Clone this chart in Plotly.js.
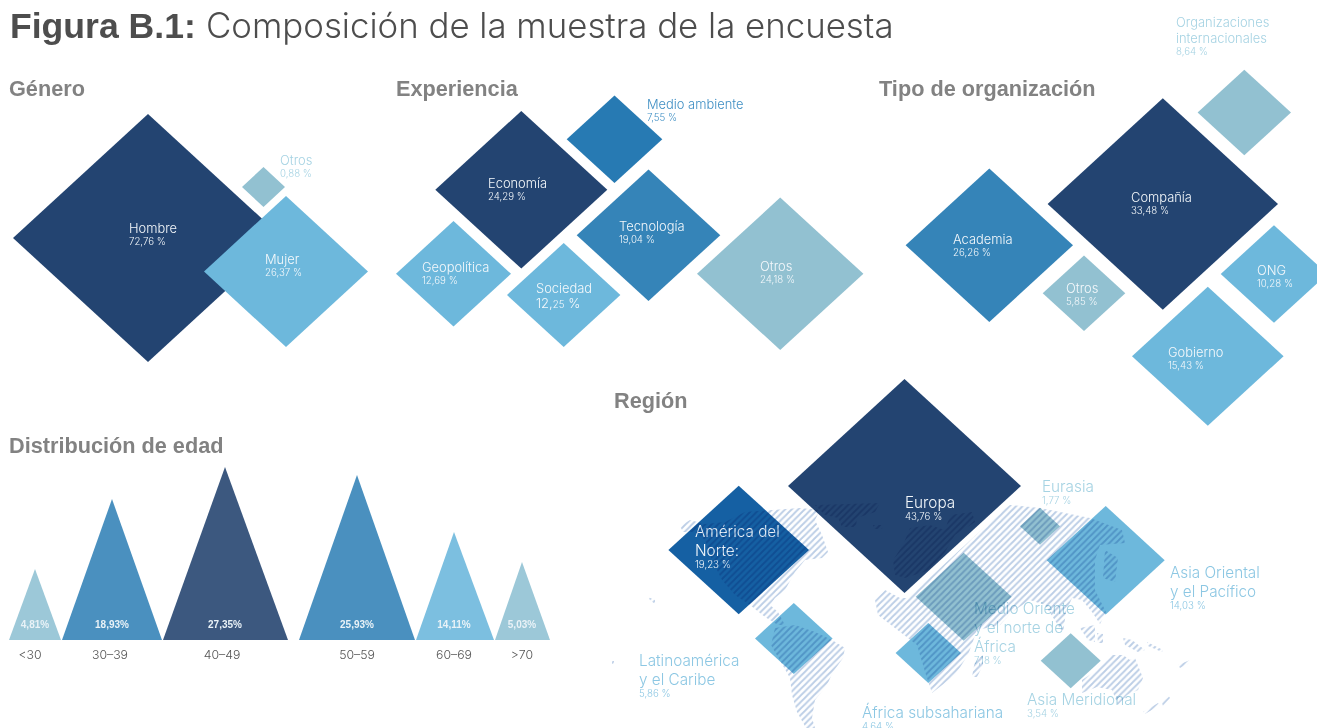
<!DOCTYPE html>
<html><head><meta charset="utf-8">
<script src="https://cdn.plot.ly/plotly-3.0.1.min.js"></script>
<style>html,body{margin:0;padding:0;background:#fff;overflow:hidden}</style></head>
<body><div id="chart" style="width:1317px;height:728px"></div>
<script>
// ---- values ----
const generoCats = ["Hombre","Mujer","Otros"];
const generoVals = [72.76,26.37,0.88];
const experienciaCats = ["Economía","Medio ambiente","Tecnología","Geopolítica","Sociedad","Otros"];
const experienciaVals = [24.29,7.55,19.04,12.69,12.25,24.18];
const organizacionCats = ["Organizaciones<br>internacionales","Compañía","Academia","Otros","ONG","Gobierno"];
const organizacionVals = [8.64,33.48,26.26,5.85,10.28,15.43];
const regionCats = ["Europa","América del<br>Norte:","Latinoamérica<br>y el Caribe","Medio Oriente<br>y el norte de<br>África","África subsahariana","Eurasia","Asia Oriental<br>y el Pacífico","Asia Meridional"];
const regionVals = [43.76,19.23,5.86,7.18,4.64,1.77,14.03,3.54];
const edadCats = ["&lt;30","30–39","40–49","50–59","60–69",">70"];
const edadVals = [4.81,18.93,27.35,25.93,14.11,5.03];

// ---- placement and style ----
const C = {navy:"#234471",mid:"#3584b8",env:"#277ab3",light:"#6db8dc",pale:"#92c1d1",usa:"#1560a3"};
const LP = "#a6d3e3", LB = "#8cc7e3", LM="#3f8fc4", W="#f4f8fb";
const generoGeo = [[148,238,135,124,C.navy],[286,271.5,82,75.5,C.light],[263.5,187,21.5,20,C.pale]];
const generoTxt = [[129,229,W],[265,260,W],[280,161,LP]];
const experienciaGeo = [[521.3,189.8,86,78.8,C.navy],[614.5,139.3,47.8,43.7,C.env],[648.5,235.2,71.8,65.8,C.mid],[453.5,273.8,57.5,52.8,C.light],[563.7,295,56.7,52,C.light],[780.2,273.8,83.2,76.2,C.pale]];
const experienciaTxt = [[488,184,W],[647,105,LM],[619,227,W],[422,268,W],[536,289,W],[760,267,W]];
const organizacionGeo = [[1244.3,112.5,46.7,42.8,C.pale],[1162.8,204,115.2,105.7,C.navy],[989.3,245.2,83.7,76.8,C.mid],[1084,293.3,41.3,37.7,C.pale],[1274,274,53.3,48.8,C.light],[1207.8,356.2,75.8,69.5,C.light]];
const organizacionTxt = [[1176,23,LP],[1131,198,W],[953,240,W],[1066,289,W],[1257,271,W],[1168,353,W]];
const regionGeo = [[904.5,486,116.5,107,C.navy],[738.7,550,70.3,64.3,C.usa],[793.8,638.5,38.8,35.5,C.light],[963.7,596.7,48,44,C.pale],[928.3,653,32.7,30,C.light],[1040,526.2,20,18.5,C.pale],[1105.7,560.2,59,54.2,C.light],[1070.7,660.8,30,27.5,C.pale]];
const regionTxt = [[905,503,W],[695,532,W],[639,661,LB],[974,609,LP],[862,713,LB],[1042,487,LP],[1170,573,LB],[1027,700,LP]];
const edadGeo = [[35,9,61,71,"#9cc8d8"],[112,62,162,141,"#4a90bf"],[225,163,288,173,"#3c587f"],[357,299,415,165,"#4a90bf"],[454,416,494,108,"#7cbfe0"],[522,495,550,78,"#9cc8d8"]];
const edadBase = 640;
const edadLabelX = [30,110,222,357,454,522];
const headings = [["Género",9,91],["Experiencia",396,91],["Tipo de organización",879,91],["Región",614,403],["Distribución de edad",9,448]];
const mapOutline = [
 [[680,526],[690,520],[705,524],[725,522],[745,512],[770,510],[800,508],[820,510],[815,520],[822,535],[828,552],[822,558],[805,560],[795,572],[785,590],[775,598],[770,605],[778,612],[785,625],[778,625],[765,617],[750,605],[735,595],[722,580],[712,560],[705,540],[695,532],[683,532]],
 [[775,628],[795,625],[815,632],[832,640],[845,648],[843,658],[833,672],[827,685],[815,700],[812,718],[815,728],[806,728],[797,712],[792,695],[790,678],[780,660],[771,645]],
 [[815,505],[880,503],[875,512],[857,518],[856,527],[842,527],[838,518],[825,515]],
 [[873,525],[883,525],[882,529],[874,529]],
 [[893,560],[903,545],[910,528],[930,525],[945,530],[950,515],[972,512],[975,522],[955,535],[945,552],[930,570],[905,578],[895,575]],
 [[875,600],[885,590],[900,598],[908,598],[925,582],[960,550],[985,527],[1003,510],[1010,505],[1040,508],[1090,518],[1122,530],[1125,543],[1100,545],[1095,560],[1095,590],[1106,612],[1100,624],[1092,612],[1082,600],[1072,598],[1066,612],[1063,633],[1055,620],[1045,605],[1030,600],[1012,612],[1000,625],[977,630],[968,655],[955,675],[932,693],[926,675],[917,645],[895,628],[878,615]],
 [[1105,550],[1118,558],[1115,582],[1103,578]],
 [[1080,628],[1095,625],[1095,642],[1088,640]],[[1097,633],[1103,634],[1103,643],[1098,643]],
 [[1123,638],[1132,640],[1145,650],[1138,652],[1125,645]],[[1147,642],[1163,650],[1162,652],[1148,646]],
 [[1082,693],[1082,680],[1097,670],[1112,655],[1123,655],[1130,660],[1135,658],[1143,678],[1138,690],[1127,695],[1118,705],[1112,690],[1097,687]],
 [[1143,712],[1158,703],[1160,705],[1145,714]],[[1162,703],[1168,695],[1170,698],[1163,706]],
 [[972,677],[975,660],[983,655],[983,665],[977,677]],
 [[648,597],[655,600],[655,604],[650,600]],[[1178,665],[1190,660],[1188,664],[1180,668]],[[612,661],[614,661],[614,664],[612,664]]
];
const BOLD = "'Liberation Sans', Arial, sans-serif";
const LIGHT = "Inter, 'Liberation Sans', Arial, sans-serif";

const fmt = (v,sp) => v.toFixed(2).replace(".",",") + (sp ? " %" : "%");
const traces = [];
const blendIdx = [];
function txt(x,y,s,size,color,pos,fam,wt){
  traces.push({type:"scatter",mode:"text",x:[x],y:[y],text:[s],textposition:pos||"middle right",
    textfont:{family:fam||LIGHT,size:size,color:color,weight:wt||300},hoverinfo:"skip",cliponaxis:false});
}
function diamonds(geo){
  geo.forEach(g=>{const [cx,cy,hw,hh,col]=g;
    traces.push({type:"scatter",mode:"lines",x:[cx-hw,cx,cx+hw,cx,cx-hw],y:[cy,cy-hh,cy,cy+hh,cy],fill:"toself",fillcolor:col,line:{width:0},hoverinfo:"skip"});
  });
}
function labels(cats,vals,pos,size,lh,nameDy,pctDy,blendCats){
  cats.forEach((c,i)=>{
    const lines=c.split("<br>"), [x,y,col]=pos[i];
    const blend=(blendCats||[]).includes(c);
    lines.forEach((l,k)=>{ if(blend) blendIdx.push(traces.length); txt(x,y+nameDy+k*lh,l,size,col); });
    const py=y+(lines.length-1)*lh+pctDy;
    const soc=c==="Sociedad";
    const s=soc? "12,<span style='font-size:9.7px'>25</span> %" : fmt(vals[i],true);
    if(blend) blendIdx.push(traces.length);
    txt(x,soc?py+3:py,s,soc?13:9.7,col);
  });
}
diamonds(generoGeo);diamonds(experienciaGeo);diamonds(organizacionGeo);diamonds(regionGeo);
labels(generoCats,generoVals,generoTxt,12.9,0,1,13.2);
labels(experienciaCats,experienciaVals,experienciaTxt,12.9,0,1,13.2);
labels(organizacionCats,organizacionVals,organizacionTxt,12.9,16,1,13.2);
labels(regionCats,regionVals,regionTxt,15.3,19,1.5,14.2,[regionCats[3],regionCats[7]]);

// hatched world map, laid over the region diamonds and darkening them
blendIdx.push(traces.length);
const mx=[],my=[];
mapOutline.forEach(p=>{p.forEach(q=>{mx.push(q[0]);my.push(q[1]);});mx.push(p[0][0]);my.push(p[0][1]);mx.push(null);my.push(null);});
traces.push({type:"scatter",mode:"lines",x:mx,y:my,fill:"toself",fillcolor:"rgba(0,0,0,0)",line:{width:0},hoverinfo:"skip",
  fillpattern:{shape:"/",size:4.6,solidity:0.4,fgcolor:"#bccee6",fgopacity:1,bgcolor:"rgba(0,0,0,0)"}});

// age triangles
edadGeo.forEach((g,i)=>{const [ax,l,r,h,col]=g;
  traces.push({type:"scatter",mode:"lines",x:[l,ax,r,l],y:[edadBase,edadBase-h,edadBase,edadBase],fill:"toself",fillcolor:col,line:{width:0},hoverinfo:"skip"});
  txt(ax,625.5,"<b>"+fmt(edadVals[i],false)+"</b>",10,"#e9f2f7","middle center",BOLD);
  txt(edadLabelX[i],656,edadCats[i],12.3,"#555","middle center");
});
headings.forEach(h=>txt(h[1],h[2],"<b>"+h[0]+"</b>",21.7,"#828282","middle right",BOLD,700));
txt(10,29,"<b>Figura B.1:</b>",35.6,"#4d4d4d","middle right",BOLD,700);
txt(206,29,"Composición de la muestra de la encuesta",34.8,"#4d4d4d");

const gd=document.getElementById("chart");
Plotly.newPlot(gd,traces,{
  width:1317,height:728,margin:{l:0,r:0,t:0,b:0},showlegend:false,paper_bgcolor:"#fff",plot_bgcolor:"#fff",
  xaxis:{range:[0,1317],visible:false,fixedrange:true},
  yaxis:{range:[728,0],visible:false,fixedrange:true}
},{displayModeBar:false,staticPlot:true}).then(()=>{
  const groups=gd.querySelectorAll(".scatterlayer .trace");
  blendIdx.forEach(i=>{ if(groups[i]) groups[i].style.mixBlendMode="multiply"; });
});
</script></body></html>
